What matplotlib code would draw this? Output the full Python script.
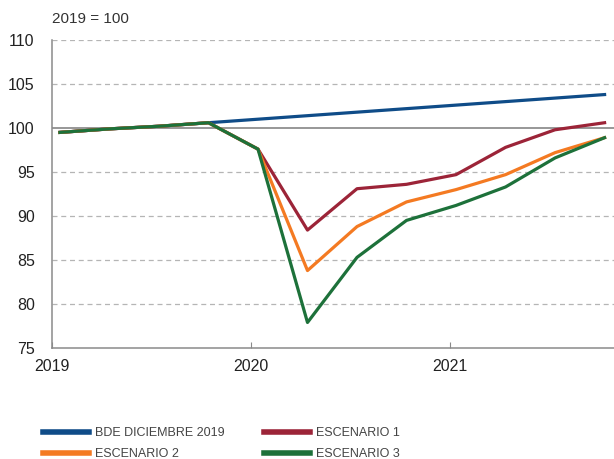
import numpy as np
import matplotlib
matplotlib.use("Agg")
import matplotlib.pyplot as plt
from matplotlib import font_manager

# quarterly data 2019Q1 - 2021Q4
quarters = ["2019Q1", "2019Q2", "2019Q3", "2019Q4",
            "2020Q1", "2020Q2", "2020Q3", "2020Q4",
            "2021Q1", "2021Q2", "2021Q3", "2021Q4"]
bde_dic2019 = [99.5, 99.9, 100.2, 100.6, 101.0, 101.4, 101.8, 102.2, 102.6, 103.0, 103.4, 103.8]
escenario1 = [99.5, 99.9, 100.2, 100.6, 97.6, 88.4, 93.1, 93.6, 94.7, 97.8, 99.8, 100.6]
escenario2 = [99.5, 99.9, 100.2, 100.6, 97.6, 83.8, 88.8, 91.6, 93.0, 94.7, 97.2, 98.9]
escenario3 = [99.5, 99.9, 100.2, 100.6, 97.6, 77.9, 85.3, 89.5, 91.2, 93.3, 96.6, 98.9]
year_labels = ["2019", "2020", "2021"]
year_pos = [-0.16, 3.86, 7.88]

names = [f.name for f in font_manager.fontManager.ttflist]
narrow = "Liberation Sans Narrow" if "Liberation Sans Narrow" in names else "Liberation Sans"
plt.rcParams['font.family'] = ['Liberation Sans', 'DejaVu Sans']

fig = plt.figure(figsize=(6.14, 4.59), dpi=100)
ax = fig.add_axes([52/614, 111/459, 562/614, 308/459])

x = np.arange(len(quarters))
l0, = ax.plot(x, bde_dic2019, color="#0f4c88", lw=2.3, zorder=3)
l1, = ax.plot(x, escenario1, color="#9c2438", lw=2.3, zorder=4)
l2, = ax.plot(x, escenario2, color="#f47a22", lw=2.3, zorder=5)
l3, = ax.plot(x, escenario3, color="#1d713a", lw=2.3, zorder=6)

ax.set_ylim(75, 110)
ax.set_xlim(-0.16, 11.19)
ax.set_yticks(range(75, 111, 5))
for v in range(80, 111, 5):
    if v == 100:
        ax.axhline(v, color="#7a7a7a", lw=1.1, zorder=2)
    else:
        ax.axhline(v, color="#b5b5b5", lw=0.9, ls=(0, (4, 3)), zorder=1)

ax.set_xticks(year_pos)
ax.set_xticklabels(year_labels)
ax.tick_params(axis="x", direction="in", length=4, color="#8a8a8a", labelsize=11.5,
               labelcolor="#222222", pad=8)
ax.tick_params(axis="y", length=0, labelsize=11.5, labelcolor="#222222", pad=12.5)

for s in ["top", "right"]:
    ax.spines[s].set_visible(False)
for s in ["left", "bottom"]:
    ax.spines[s].set_color("#8a8a8a")
    ax.spines[s].set_linewidth(1.1)

fig.text(52/614, 1 - 19/459, "2019 = 100", fontsize=11, color="#333333", va="center")

# two single-column legends to place the columns like the original
leg_kw = dict(loc="upper left", frameon=False, handlelength=3.7, labelspacing=0.72,
              handletextpad=0.45, borderpad=0, borderaxespad=0,
              prop={"family": narrow, "size": 9})
leg1 = fig.legend([l0, l2], ["BDE DICIEMBRE 2019", "ESCENARIO 2"],
                  bbox_to_anchor=(43/614, 1 - 427/459), **leg_kw)
leg2 = fig.legend([l1, l3], ["ESCENARIO 1", "ESCENARIO 3"],
                  bbox_to_anchor=(264/614, 1 - 427/459), **leg_kw)
for leg in (leg1, leg2):
    for t in leg.get_texts():
        t.set_color("#444444")
    for ln in leg.get_lines():
        ln.set_linewidth(4)

fig.savefig("out.png", dpi=100)
